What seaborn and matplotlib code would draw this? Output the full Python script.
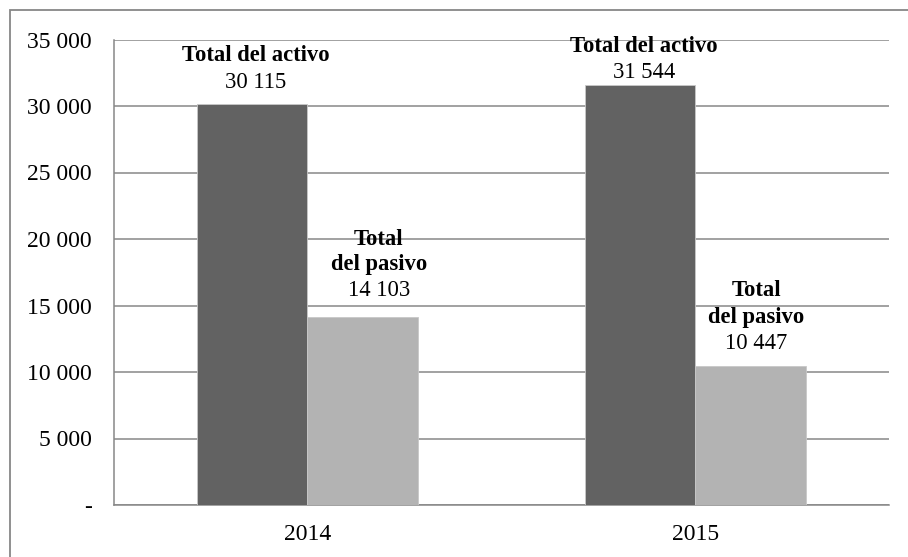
import matplotlib
matplotlib.use("Agg")
import matplotlib.pyplot as plt
import matplotlib.patches as mpatches
import seaborn as sns
import pandas as pd

years = ["2014", "2015"]
activo = [30115, 31544]
pasivo = [14103, 10447]
series_names = ["Total del activo", "Total del pasivo"]
yticks = [0, 5000, 10000, 15000, 20000, 25000, 30000, 35000]

df = pd.DataFrame({
    "year": years * 2,
    "serie": [series_names[0]] * len(years) + [series_names[1]] * len(years),
    "value": activo + pasivo,
})

sns.set_theme(style="white")
plt.rcParams["font.family"] = ["Liberation Serif", "DejaVu Serif"]

W, H = 908, 557
fig = plt.figure(figsize=(W / 100, H / 100), dpi=100)
ax = fig.add_axes([113.5 / W, 1 - 505 / H, (889 - 113.5) / W, (505 - 39.5) / H])

grid_c = "#878787"
sns.barplot(data=df, x="year", y="value", hue="serie", order=years,
            hue_order=series_names, palette=["#626262", "#b3b3b3"],
            width=0.57, ax=ax, legend=False, edgecolor="#c8c8c8", linewidth=0.6,
            zorder=3)

ax.set_xlim(-0.5, 1.5)
ax.set_ylim(0, 35000)
ax.set_yticks(yticks)
ax.set_yticklabels(["-" if v == 0 else f"{v:,}".replace(",", " ") for v in yticks],
                   fontsize=17)
ax.yaxis.grid(True, color=grid_c, linewidth=1.1, zorder=0)
ax.set_axisbelow(True)
ax.tick_params(axis="y", length=6.5, width=1.1, color=grid_c, pad=9, labelcolor="black")

ax.set_xticks([-0.5, 0.5, 1.5])
ax.set_xticklabels(["", "", ""])
ax.set_xticks([0, 1], minor=True)
ax.set_xticklabels(years, minor=True, fontsize=17)
ax.tick_params(axis="x", which="major", length=6, width=1.1, color=grid_c)
ax.tick_params(axis="x", which="minor", length=0, pad=14, labelcolor="black")
ax.set_xlabel("")
ax.set_ylabel("")

for s in ["top", "right"]:
    ax.spines[s].set_visible(False)
for s in ["left", "bottom"]:
    ax.spines[s].set_color(grid_c)
    ax.spines[s].set_linewidth(1.1)

# data labels (bold series name + value), offsets in pixels relative to bar top
label_offsets = {
    (0, 0): (4, 22, 49),
    (1, 0): (4, 13, 39),
    (0, 1): (16, 27, 53, 78),
    (1, 1): (6, 23, 49, 76),
}
bars = ax.patches
for si, vals in enumerate([activo, pasivo]):
    for ci, v in enumerate(vals):
        b = bars[si * len(years) + ci]
        xc = b.get_x() + b.get_width() / 2
        off = label_offsets[(ci, si)]
        dx = off[0]
        num = f"{v:,}".replace(",", " ")
        ax.annotate(num, (xc, v), xytext=(dx, off[1]), textcoords="offset pixels",
                    ha="center", va="center", fontsize=16.3, color="black", zorder=5)
        if si == 0:
            ax.annotate(series_names[0], (xc, v), xytext=(dx, off[2]),
                        textcoords="offset pixels", ha="center", va="center",
                        fontsize=16.3, fontweight="bold", color="black", zorder=5)
        else:
            ax.annotate("del pasivo", (xc, v), xytext=(dx, off[2]),
                        textcoords="offset pixels", ha="center", va="center",
                        fontsize=16.3, fontweight="bold", color="black", zorder=5)
            ax.annotate("Total", (xc, v), xytext=(dx, off[3]),
                        textcoords="offset pixels", ha="center", va="center",
                        fontsize=16.3, fontweight="bold", color="black", zorder=5)

# outer chart border
fig.patches.append(mpatches.Rectangle((10 / W, -0.05), 1.1, 1 - 10 / H + 0.05,
                                      transform=fig.transFigure, fill=False,
                                      edgecolor=grid_c, linewidth=1.3))

fig.savefig("out.png", dpi=100)
